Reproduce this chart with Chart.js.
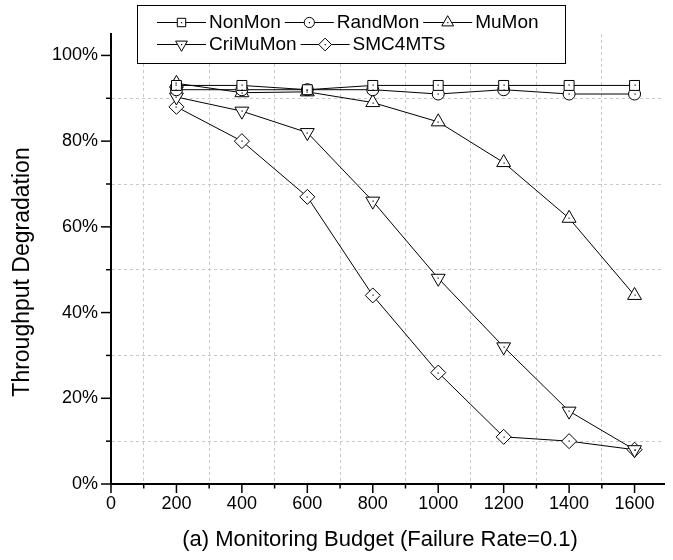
<!DOCTYPE html>
<html>
<head>
<meta charset="utf-8">
<script src="https://cdn.jsdelivr.net/npm/chart.js@4.4.0/dist/chart.umd.min.js"></script>
<style>
  html, body { margin: 0; padding: 0; background: #fff; }
  #wrap { width: 673px; height: 560px; position: relative; }
</style>
</head>
<body>
<div id="wrap"><canvas id="c" width="673" height="560"></canvas></div>
<script>
// ---- data ----
const budgets = [200, 400, 600, 800, 1000, 1200, 1400, 1600];
const nonMon   = [93, 93, 92, 93, 93, 93, 93, 93];
const randMon  = [92, 92, 92, 92, 91, 92, 91, 91];
const muMon    = [93.5, 91.3, 91.5, 89, 84.5, 75, 62, 44];
const criMuMon = [90.3, 87, 82, 66, 48, 32, 17, 8];
const smc4mts  = [88, 80, 67, 44, 26, 11, 10, 8];
const seriesNames = ['NonMon', 'RandMon', 'MuMon', 'CriMuMon', 'SMC4MTS'];
const xTickValues = [0,100,200,300,400,500,600,700,800,900,1000,1100,1200,1300,1400,1500,1600];
const yTickValues = [0,10,20,30,40,50,60,70,80,90,100];
const xTitle = '(a) Monitoring Budget (Failure Rate=0.1)';
const yTitle = 'Throughput Degradation';

const FONT = '"Liberation Sans", Arial, Helvetica, sans-serif';

function pts(arr) { return budgets.map((b, i) => ({ x: b, y: arr[i] })); }

const styles = [
  { pointStyle: 'rect', radius: 7, rotation: 0 },
  { pointStyle: 'circle', radius: 6, rotation: 0 },
  { pointStyle: 'triangle', radius: 8, rotation: 0 },
  { pointStyle: 'triangle', radius: 8, rotation: 180 },
  { pointStyle: 'rectRot', radius: 7.5, rotation: 0 }
];
const allData = [nonMon, randMon, muMon, criMuMon, smc4mts];

const datasets = allData.map((arr, i) => ({
  label: seriesNames[i],
  data: pts(arr),
  borderColor: '#000',
  borderWidth: 1,
  backgroundColor: '#fff',
  pointStyle: styles[i].pointStyle,
  pointRadius: styles[i].radius,
  pointRotation: styles[i].rotation,
  pointBorderColor: '#000',
  pointBackgroundColor: '#fff',
  pointBorderWidth: 1,
  tension: 0,
  fill: false
}));

const decor = {
  id: 'decor',
  afterDatasetsDraw(chart) {
    const ctx = chart.ctx;
    ctx.save();
    ctx.fillStyle = '#000';
    chart.data.datasets.forEach((ds, di) => {
      const meta = chart.getDatasetMeta(di);
      meta.data.forEach(p => {
        ctx.fillRect(Math.round(p.x) - 0.5, Math.round(p.y) - 0.5, 1.2, 1.2);
      });
    });
    ctx.restore();
  },
  afterDraw(chart) {
    const ctx = chart.ctx;
    const xs = chart.scales.x, ys = chart.scales.y;
    ctx.save();
    ctx.strokeStyle = '#000';
    ctx.lineWidth = 1.5;
    // x tick marks
    const yb = ys.getPixelForValue(0);
    xTickValues.forEach(v => {
      const px = xs.getPixelForValue(v);
      const len = (v % 200 === 0) ? 9 : 4.5;
      ctx.beginPath(); ctx.moveTo(px, yb); ctx.lineTo(px, yb + len); ctx.stroke();
    });
    const xl = xs.getPixelForValue(0);
    yTickValues.forEach(v => {
      const py = ys.getPixelForValue(v);
      const len = (v % 20 === 0) ? 10 : 5;
      ctx.beginPath(); ctx.moveTo(xl, py); ctx.lineTo(xl - len, py); ctx.stroke();
    });
    // titles
    ctx.fillStyle = '#000';
    ctx.font = '22px ' + FONT;
    ctx.textAlign = 'center';
    ctx.textBaseline = 'middle';
    ctx.fillText(xTitle, 380, 540);
    ctx.save();
    ctx.font = '23px ' + FONT;
    ctx.translate(23, 272);
    ctx.rotate(-Math.PI / 2);
    ctx.fillText(yTitle, 0, 0);
    ctx.restore();

    // legend
    ctx.fillStyle = '#fff';
    ctx.fillRect(137, 5, 428, 58);
    ctx.strokeStyle = '#000';
    ctx.lineWidth = 1;
    ctx.strokeRect(137.5, 5.5, 428, 58);
    ctx.font = '19px ' + FONT;
    ctx.textAlign = 'left';
    const rows = [[0, 1, 2], [3, 4]];
    const rowY = [22, 44];
    rows.forEach((row, ri) => {
      let x = 157;
      const y = rowY[ri];
      row.forEach(i => {
        ctx.strokeStyle = '#000';
        ctx.lineWidth = 1;
        ctx.beginPath(); ctx.moveTo(x, y + 0.5); ctx.lineTo(x + 49, y + 0.5); ctx.stroke();
        ctx.fillStyle = '#fff';
        Chart.helpers.drawPoint(ctx, {
          pointStyle: styles[i].pointStyle,
          radius: styles[i].radius * 0.85,
          rotation: styles[i].rotation,
          borderWidth: 1
        }, x + 24.5, y + 0.5);
        ctx.fillStyle = '#000';
        ctx.fillRect(x + 24, y, 1.2, 1.2);
        ctx.fillText(seriesNames[i], x + 52, y + 1);
        x += 52 + ctx.measureText(seriesNames[i]).width + 4;
      });
    });
    ctx.restore();
  }
};

new Chart(document.getElementById('c'), {
  type: 'line',
  data: { datasets },
  options: {
    responsive: false,
    animation: false,
    events: [],
    layout: { padding: { top: 34, right: 0, bottom: 0, left: 0 } },
    plugins: { legend: { display: false }, tooltip: { enabled: false }, title: { display: false } },
    scales: {
      x: {
        type: 'linear',
        min: 0,
        max: 1690,
        afterBuildTicks: s => { s.ticks = xTickValues.map(v => ({ value: v })); },
        afterFit: s => { s.height = 76; },
        ticks: {
          autoSkip: false,
          maxRotation: 0,
          padding: 9,
          color: '#000',
          font: { family: FONT, size: 18 },
          callback: v => (v % 200 === 0 ? String(v) : '')
        },
        grid: {
          drawTicks: false,
          lineWidth: 1,
          color: c => (c.tick && c.tick.value % 200 === 100) ? '#c8c8c8' : 'rgba(0,0,0,0)'
        },
        border: { display: true, color: '#000', width: 2, dash: [3, 3] }
      },
      y: {
        type: 'linear',
        min: 0,
        max: 105,
        afterBuildTicks: s => { s.ticks = yTickValues.map(v => ({ value: v })); },
        afterFit: s => { s.width = 111; },
        ticks: {
          autoSkip: false,
          padding: 13,
          color: '#000',
          font: { family: FONT, size: 18 },
          callback: v => (v % 20 === 0 ? v + '%' : '')
        },
        grid: {
          drawTicks: false,
          lineWidth: 1,
          color: c => (c.tick && c.tick.value % 20 === 10) ? '#c8c8c8' : 'rgba(0,0,0,0)'
        },
        border: { display: true, color: '#000', width: 2, dash: [3, 3] }
      }
    }
  },
  plugins: [decor]
});
</script>
</body>
</html>
